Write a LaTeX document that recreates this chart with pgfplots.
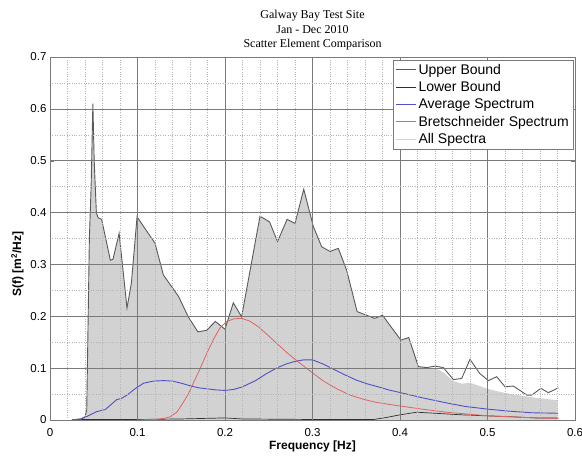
\documentclass[border=0pt]{standalone}
\usepackage{pgfplots}
\pgfplotsset{compat=1.18}
\usepackage{fontspec}
\setmainfont{Liberation Sans}
\newfontfamily\titlefont{Liberation Serif}

\definecolor{upperc}{HTML}{5A5A5A}
\definecolor{lowerc}{HTML}{303030}
\definecolor{avgc}{HTML}{5050C8}
\definecolor{bretc}{HTML}{E06262}
\definecolor{allc}{HTML}{D2D2D2}
\definecolor{majgrid}{HTML}{7A7A7A}
\definecolor{mingrid}{HTML}{B4B4B4}

\begin{document}
\begin{tikzpicture}
\path[use as bounding box] (-50pt,-41pt) rectangle (532pt,420pt);
\begin{axis}[
  at={(0pt,0pt)}, anchor=south west,
  scale only axis, width=525pt, height=363pt,
  xmin=0, xmax=0.6, ymin=0, ymax=0.7,
  xtick={0,0.1,0.2,0.3,0.4,0.5,0.6},
  ytick={0,0.1,0.2,0.3,0.4,0.5,0.6,0.7},
  minor x tick num=4, minor y tick num=1,
  grid=both,
  major grid style={majgrid, line width=0.6pt},
  minor grid style={mingrid, dotted, line width=0.5pt},
  axis line style={majgrid},
  tick style={majgrid},
  tick align=inside, major tick length=4pt, minor tick length=0pt,
  axis on top,
  /pgf/number format/assume math mode=true,
  tick label style={font=\fontsize{11.5}{13}\selectfont},
  xticklabel style={yshift=-5pt},
  title={Galway Bay Test Site\\Jan - Dec 2010\\Scatter Element Comparison},
  title style={font=\titlefont\fontsize{12}{14.5}\selectfont, align=center, yshift=-3pt},
  xlabel={\bfseries Frequency [Hz]},
  ylabel={\bfseries S(f) [m\textsuperscript{2}/Hz]},
  label style={font=\fontsize{12}{14}\selectfont},
  xlabel style={yshift=3pt},
  ylabel style={at={(ticklabel cs:0.43)}},
  legend style={at={(0.996,0.992)}, anchor=north east, draw=majgrid, fill=white,
    font=\fontsize{14}{16}\selectfont, inner sep=2pt, row sep=1.8pt,
    cells={anchor=west}},
  legend image code/.code={\draw[#1, line width=1pt] (0pt,0pt) -- (20pt,0pt);},
]
% envelope of all spectra
\addplot[fill=allc, draw=none, forget plot] coordinates {
(0.035,0) (0.040,0.006) (0.042,0.02) (0.045,0.35) (0.047,0.45) (0.049,0.61)
(0.0505,0.50) (0.053,0.40) (0.055,0.39) (0.059,0.387) (0.069,0.308) (0.072,0.31)
(0.079,0.36) (0.088,0.216) (0.093,0.264) (0.0995,0.392) (0.107,0.373) (0.120,0.341)
(0.1295,0.28) (0.147,0.238) (0.158,0.199) (0.169,0.170) (0.179,0.173) (0.189,0.190)
(0.200,0.175) (0.2095,0.226) (0.219,0.199) (0.240,0.393) (0.251,0.382) (0.260,0.344)
(0.271,0.387) (0.280,0.379) (0.290,0.445) (0.301,0.373) (0.3105,0.334) (0.320,0.325)
(0.3295,0.331) (0.339,0.289) (0.351,0.209) (0.362,0.202) (0.371,0.196) (0.380,0.202)
(0.401,0.154) (0.410,0.159) (0.421,0.103) (0.4305,0.101) (0.440,0.100) (0.4495,0.092)
(0.461,0.075) (0.4705,0.070) (0.480,0.072) (0.500,0.060) (0.520,0.052) (0.550,0.044)
(0.580,0.038) (0.580,0)
} \closedcycle;

\addplot[upperc, line width=0.9pt] coordinates {
(0.025,0) (0.035,0.002) (0.040,0.006) (0.042,0.02) (0.045,0.35) (0.047,0.45) (0.049,0.61)
(0.0505,0.50) (0.053,0.40) (0.055,0.39) (0.059,0.387) (0.069,0.308) (0.072,0.31)
(0.079,0.36) (0.088,0.216) (0.093,0.264) (0.0995,0.392) (0.107,0.373) (0.120,0.341)
(0.1295,0.28) (0.147,0.238) (0.158,0.199) (0.169,0.170) (0.179,0.173) (0.189,0.190)
(0.200,0.175) (0.2095,0.226) (0.219,0.199) (0.240,0.393) (0.251,0.382) (0.260,0.344)
(0.271,0.387) (0.280,0.379) (0.290,0.445) (0.301,0.373) (0.3105,0.334) (0.320,0.325)
(0.3295,0.331) (0.339,0.289) (0.351,0.209) (0.362,0.202) (0.371,0.196) (0.380,0.202)
(0.401,0.154) (0.410,0.159) (0.421,0.103) (0.4305,0.101) (0.440,0.104) (0.4495,0.101)
(0.461,0.078) (0.4705,0.080) (0.480,0.117) (0.491,0.090) (0.501,0.076) (0.5105,0.0835)
(0.520,0.064) (0.5295,0.0655) (0.545,0.048) (0.5505,0.048) (0.561,0.061) (0.5695,0.0527)
(0.581,0.062)
};
\addlegendentry{Upper Bound}

\addplot[lowerc, line width=0.7pt] coordinates {
(0.025,0) (0.04,0.001) (0.10,0.001) (0.15,0.002) (0.20,0.004) (0.22,0.002) (0.30,0.001)
(0.37,0.001) (0.385,0.005) (0.40,0.010) (0.419,0.015) (0.44,0.013) (0.47,0.010)
(0.50,0.008) (0.53,0.006) (0.555,0.004) (0.581,0.004)
};
\addlegendentry{Lower Bound}

\addplot[avgc, line width=0.9pt] coordinates {
(0.025,0) (0.035,0.002) (0.040,0.005) (0.046,0.010) (0.053,0.016) (0.063,0.020)
(0.070,0.030) (0.076,0.039) (0.082,0.042) (0.088,0.048) (0.097,0.060) (0.107,0.071)
(0.118,0.075) (0.130,0.076) (0.140,0.075) (0.150,0.071) (0.160,0.066) (0.170,0.062)
(0.180,0.060) (0.190,0.058) (0.200,0.057) (0.210,0.059) (0.220,0.064) (0.235,0.076)
(0.248,0.090) (0.260,0.101) (0.270,0.108) (0.280,0.113) (0.290,0.116) (0.300,0.116)
(0.312,0.108) (0.324,0.098) (0.337,0.087) (0.350,0.077) (0.362,0.070) (0.375,0.064)
(0.387,0.058) (0.400,0.053) (0.425,0.043) (0.453,0.033) (0.475,0.026) (0.500,0.021)
(0.525,0.017) (0.550,0.014) (0.581,0.013)
};
\addlegendentry{Average Spectrum}

\addplot[bretc, line width=0.8pt] coordinates {
(0.100,0) (0.120,0.001) (0.130,0.003) (0.137,0.006) (0.145,0.015) (0.152,0.033)
(0.158,0.050) (0.164,0.072) (0.171,0.097) (0.179,0.128) (0.187,0.156) (0.194,0.177)
(0.202,0.190) (0.210,0.195) (0.219,0.196) (0.228,0.191) (0.238,0.180) (0.248,0.165)
(0.259,0.148) (0.272,0.128) (0.286,0.109) (0.300,0.091) (0.3125,0.075) (0.328,0.060)
(0.343,0.048) (0.358,0.040) (0.373,0.034) (0.388,0.030) (0.400,0.027) (0.425,0.021)
(0.453,0.015) (0.480,0.011) (0.501,0.008) (0.530,0.006) (0.555,0.004) (0.581,0.003)
};
\addlegendentry{Bretschneider Spectrum}

\addlegendimage{allc}
\addlegendentry{All Spectra}
\end{axis}
\end{tikzpicture}
\end{document}
